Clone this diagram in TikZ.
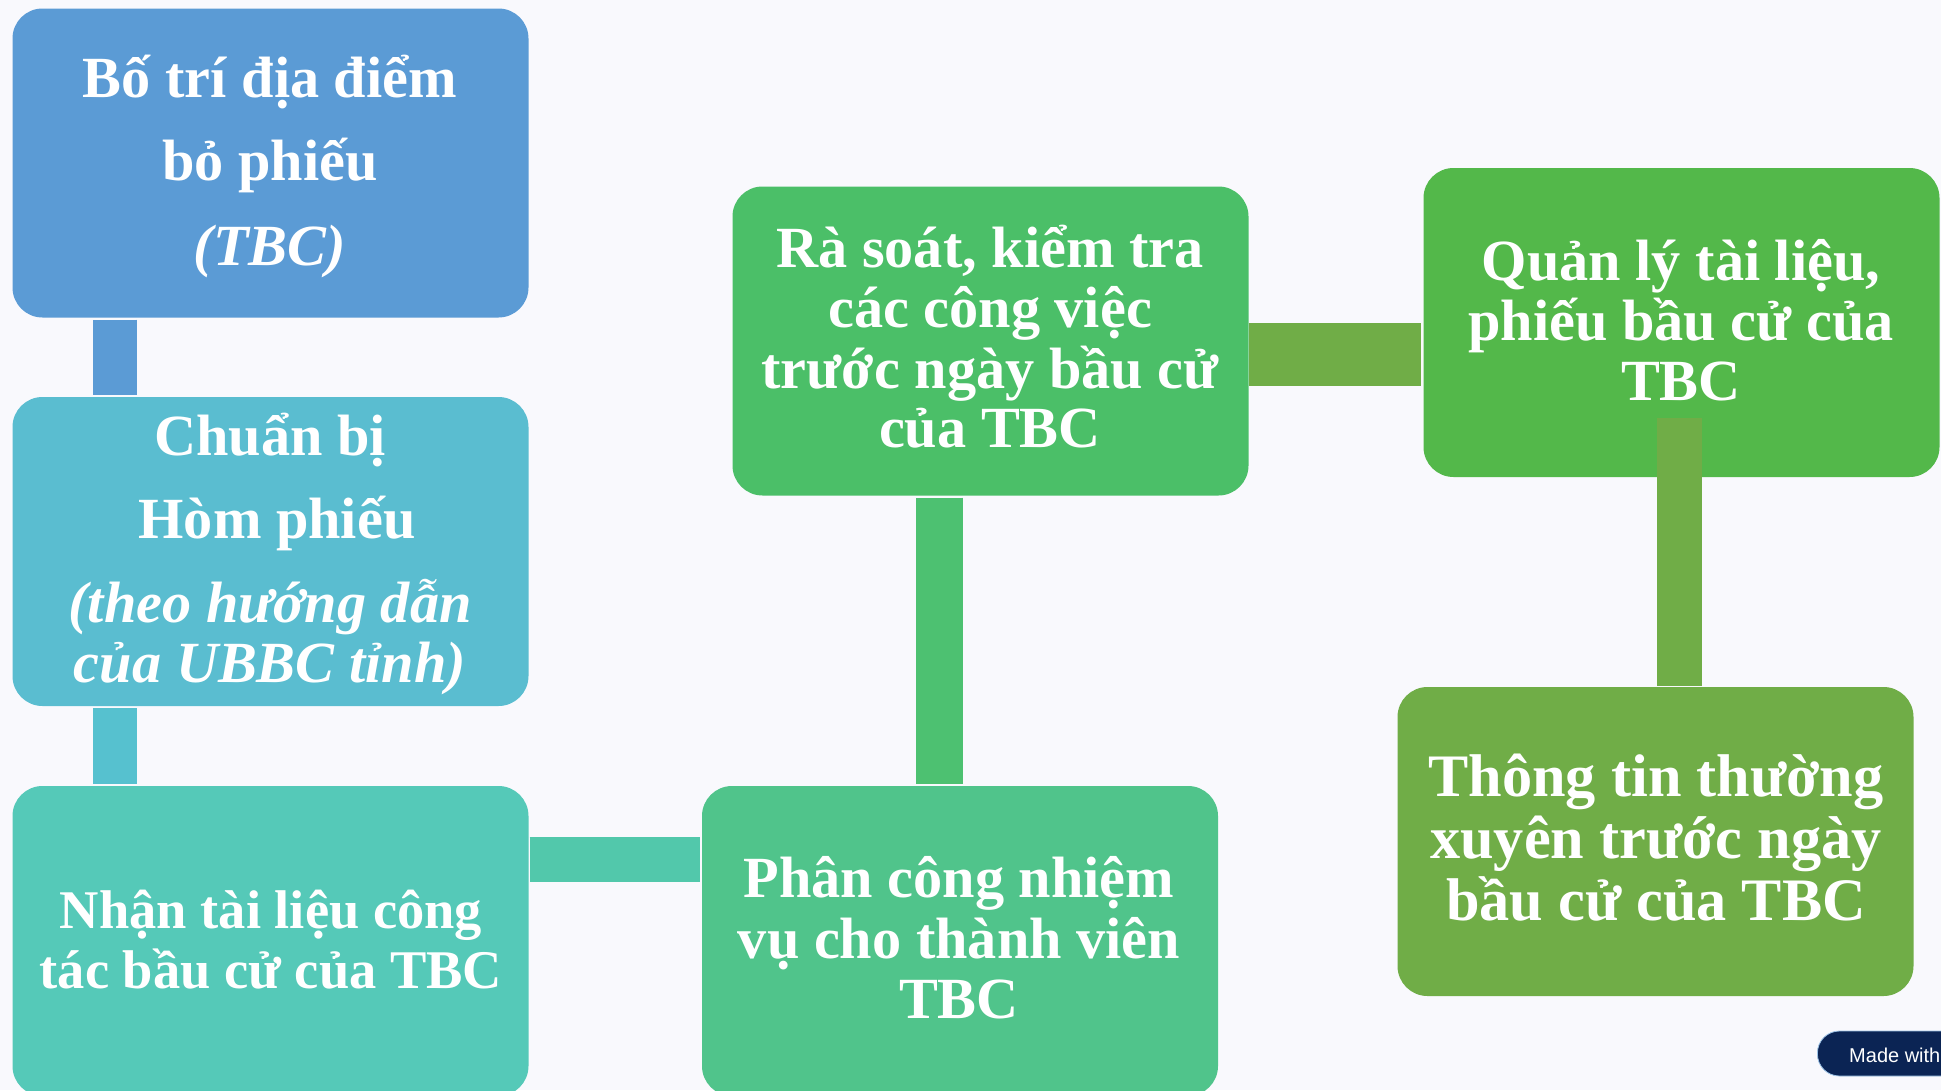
\documentclass[tikz,border=0pt]{standalone}
\usepackage{fontspec}
\setmainfont{Liberation Serif}
\newfontfamily\badgefont{Liberation Sans}
\definecolor{bg}{HTML}{F9F9FD}
\definecolor{cA}{HTML}{5B9BD5}
\definecolor{cB}{HTML}{5ABDD0}
\definecolor{cC}{HTML}{55C9B8}
\definecolor{cD}{HTML}{50C48B}
\definecolor{cE}{HTML}{4BBF68}
\definecolor{cF}{HTML}{53B84A}
\definecolor{cG}{HTML}{70AD47}
\definecolor{kB}{HTML}{56C1CF}
\definecolor{kC}{HTML}{52C8AB}
\definecolor{kD}{HTML}{4DC171}
\definecolor{navy}{HTML}{0B2454}
\tikzset{
  box/.style={fill=#1, rounded corners=30pt, inner sep=0pt, minimum width=516pt, minimum height=309pt},
  ln/.style={anchor=base, inner sep=0pt, text=white, font=\fontsize{#1}{#1}\selectfont\bfseries},
  ln/.default=58.3,
  lni/.style={anchor=base, inner sep=0pt, text=white, font=\fontsize{58.3}{58.3}\selectfont\bfseries\itshape},
  bar/.style={draw=#1, shorten <=2pt, shorten >=2pt}
}
\begin{document}
\begin{tikzpicture}[x=1pt,y=-1pt]
\useasboundingbox (0,0) rectangle (1941,1090);
\clip (0,0) rectangle (1941,1090);
\fill[bg] (0,0) rectangle (1941,1090);

% boxes
\node[box=cA] (b1) at (270.5,163) {};
\node[box=cB] (b2) at (270.5,551.5) {};
\node[box=cC, minimum height=310pt] (b3) at (270.5,941) {};
\node[box=cD, minimum height=310pt] (b4) at (960,941) {};
\node[box=cE] (b5) at (990.5,341) {};
\node[box=cF] (b6) at (1681.5,322.5) {};
\node[box=cG] (b7) at (1655.5,841.5) {};

% connectors
\draw[bar=cA, line width=44pt] ([xshift=103pt]b1.south west) -- ([xshift=103pt]b2.north west);
\draw[bar=kB, line width=44pt] ([xshift=103pt]b2.south west) -- ([xshift=103pt]b3.north west);
\draw[bar=kC, line width=45pt, shorten <=1pt, shorten >=2pt] ([yshift=-74pt]b3.north east) -- ([yshift=-74pt]b4.north west);
\coordinate (c4) at ([xshift=207.5pt]b5.south west);
\draw[bar=kD, line width=47pt] (c4) -- (c4 |- b4.north);
\coordinate (c5) at ([yshift=-168.5pt]b5.north east);
\draw[bar=cG, line width=63pt, shorten <=0pt, shorten >=2pt] (c5) -- (c5 -| b6.west);
\coordinate (c6) at ([xshift=256.5pt,yshift=59pt]b6.south west);
\draw[bar=cG, line width=45pt, shorten <=0pt, shorten >=1pt] (c6) -- (c6 |- b7.north);

% texts
\node[ln] (t1a) at (270,97) {Bố trí địa điểm};
\node[ln] (t1b) at (270,180) {bỏ phiếu};
\node[lni] (t1c) at (270,265) {(TBC)};

\node[ln] (t2a) at (270,455) {Chuẩn bị};
\node[ln] (t2b) at (277,538) {Hòm phiếu};
\node[lni] (t2c) at (270,622) {(theo hướng dẫn};
\node[lni] (t2d) at (270,682) {của UBBC tỉnh)};

\node[ln=54.5] (t3a) at (271,928) {Nhận tài liệu công};
\node[ln=54.5] (t3b) at (271,988) {tác bầu cử của TBC};

\node[ln] (t4a) at (959,897) {Phân công nhiệm};
\node[ln] (t4b) at (959,958) {vụ cho thành viên};
\node[ln] (t4c) at (959,1018) {TBC};

\node[ln] (t5a) at (990,267) {Rà soát, kiểm tra};
\node[ln] (t5b) at (990,327) {các công việc};
\node[ln] (t5c) at (990,388) {trước ngày bầu cử};
\node[ln] (t5d) at (990,447) {của TBC};

\node[ln] (t6a) at (1681,280) {Quản lý tài liệu,};
\node[ln] (t6b) at (1681,340) {phiếu bầu cử của};
\node[ln] (t6c) at (1681,400) {TBC};

\node[ln=60.3] (t7a) at (1656,796) {Thông tin thường};
\node[ln=60.3] (t7b) at (1656,858) {xuyên trước ngày};
\node[ln=60.3] (t7c) at (1656,920) {bầu cử của TBC};

% badge
\node[fill=navy, draw=cA!60, line width=0.8pt, rounded corners=22pt, minimum width=180pt, minimum height=45pt, anchor=west, inner sep=0pt] (badge) at (1817,1053.5) {};
\node[anchor=base west, inner sep=0pt, text=white, font=\badgefont\fontsize{20}{20}\selectfont] (badgetext) at (1849,1062) {Made with};
\end{tikzpicture}
\end{document}
